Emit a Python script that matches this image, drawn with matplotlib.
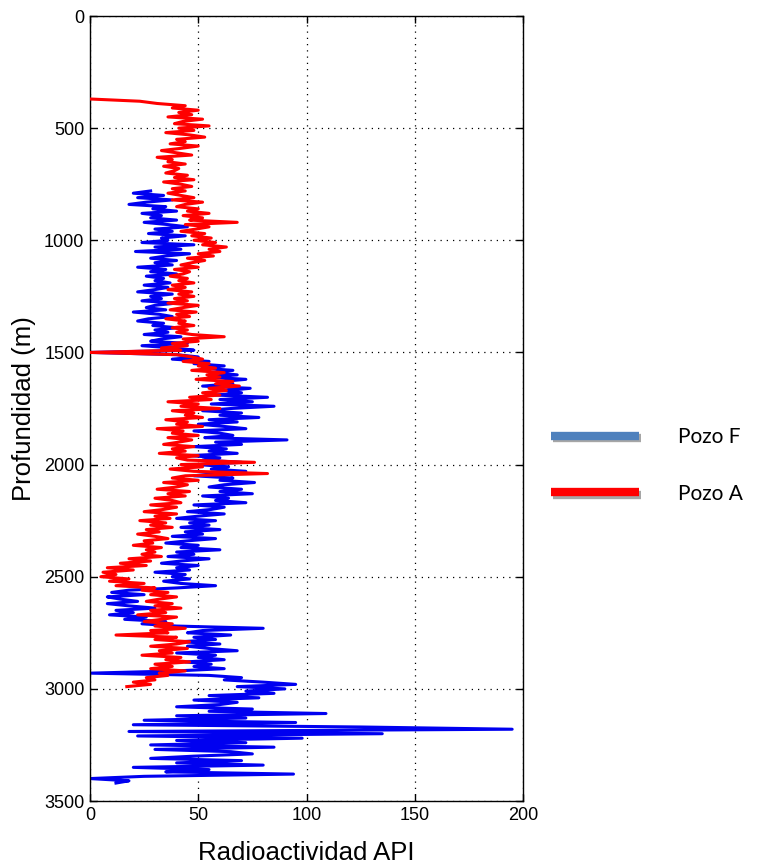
import numpy as np
import matplotlib
matplotlib.use("Agg")
import matplotlib.pyplot as plt
from matplotlib.lines import Line2D
import matplotlib.patheffects as pe

# ---------------- data ----------------
depth_step = 10  # m between samples

# Pozo A (red): first sample depth and API values
pozo_a_start = 370
pozo_a_api = [
    0, 23, 31,
    44, 38, 50, 41, 47, 36, 52, 43, 39, 55,
    41, 48, 35, 46, 53, 40, 44, 37, 50, 42,
    33, 40, 47, 31, 38, 36, 44, 34, 41, 39,
    35, 45, 39, 48, 34, 42, 47, 38, 44, 36,
    42, 48, 38, 52, 44, 40, 50, 45, 55, 43,
    52, 46, 68, 44, 55, 49, 42, 53, 47, 56,
    48, 58, 52, 63, 55, 60, 50, 57, 45, 53,
    47, 42, 50, 39, 46, 43, 37, 45, 41, 48,
    38, 44, 36, 47, 41, 48, 39, 45, 36, 50,
    43, 37, 49, 40, 46, 35, 44, 41, 48, 38,
    45, 40, 47, 62, 43, 50, 38, 45, 33, 42,
    0, 40, 47, 52, 43, 55, 50, 58, 47, 62,
    54, 60, 49, 66, 58, 69, 55, 63, 52, 60,
    46, 56, 36, 50, 42, 60, 38, 48, 44, 52,
    35, 45, 40, 52, 31, 43, 38, 50, 36, 47,
    41, 34, 48, 38, 44, 32, 50, 40, 45, 76,
    42, 52, 37, 48, 82, 44, 38, 50, 34, 45,
    40, 31, 46, 36, 44, 30, 38, 42, 28, 40,
    34, 25, 40, 30, 37, 23, 35, 28, 38, 26,
    32, 22, 30, 36, 25, 29, 20, 33, 26, 30,
    24, 33, 18, 28, 14, 26, 8, 20, 6, 12,
    5, 18, 9, 25, 12, 30, 24, 36, 28, 40,
    32, 26, 38, 30, 42, 28, 35, 22, 40, 33,
    25, 38, 30, 44, 28, 36, 12, 40, 30, 46,
    40, 28, 45, 32, 38, 24, 42, 35, 46, 30,
    38, 28, 44, 32, 36, 26, 30, 20, 28, 17,
]

# Pozo F (blue)
pozo_f_start = 780
pozo_f_api = [
    28, 20,
    34, 22, 38, 26, 18, 35, 29, 40, 24, 33,
    28, 40, 25, 36, 45, 30, 38, 27, 44, 33,
    36, 24, 48, 30, 42, 21, 46, 35, 28, 40,
    30, 38, 22, 35, 28, 40, 26, 34, 30, 37,
    25, 36, 30, 22, 38, 28, 33, 24, 40, 30,
    26, 35, 20, 32, 38, 27, 22, 34, 29, 40,
    30, 36, 25, 42, 33, 28, 45, 24, 38, 48,
    0, 40, 50, 38, 55, 48, 62, 52, 66, 57,
    68, 55, 72, 60, 66, 52, 74, 63, 70, 58,
    82, 60, 75, 56, 85, 65, 52, 70, 60, 78,
    55, 68, 50, 62, 72, 48, 60, 66, 53, 91,
    58, 70, 48, 63, 55, 68, 46, 60, 52, 70,
    50, 64, 56, 72, 58, 48, 66, 60, 76, 62,
    55, 70, 60, 75, 52, 64, 58, 72, 48, 62,
    56, 45, 62, 50, 40, 58, 46, 55, 42, 60,
    44, 52, 38, 58, 45, 35, 50, 42, 60, 40,
    48, 36, 55, 42, 33, 50, 40, 46, 30, 44,
    38, 46, 34, 42, 58, 40, 18, 10, 25, 8,
    14, 22, 8, 18, 30, 12, 20, 9, 26, 16,
    35, 24, 40, 80, 52, 45, 65, 48, 58, 42,
    60, 45, 55, 68, 40, 58, 50, 62, 44, 56,
    48, 62, 40, 0, 55, 70, 62, 80, 95, 68,
    90, 72, 85, 55, 78, 48, 68, 60, 40, 75,
    55, 109, 40, 72, 25, 95, 20, 125, 195, 18,
    135, 22, 98, 40, 72, 28, 85, 30, 65, 75,
    48, 28, 70, 40, 80, 20, 55, 35, 94, 25,
    0, 18, 12,
]

x_ticks = [0, 50, 100, 150, 200]
y_ticks = [0, 500, 1000, 1500, 2000, 2500, 3000, 3500]
series_names = ["Pozo F", "Pozo A"]

# ---------------- figure ----------------
W, H = 761, 867
fig = plt.figure(figsize=(W / 100, H / 100), dpi=100)
ax = fig.add_axes([90 / W, 1 - 801 / H, (523 - 90) / W, (801 - 16) / H])

a_depth = pozo_a_start + depth_step * np.arange(len(pozo_a_api))
f_depth = pozo_f_start + depth_step * np.arange(len(pozo_f_api))

ax.plot(pozo_f_api, f_depth, color="#0000f0", lw=2.2, zorder=2,
        solid_joinstyle="round")
ax.plot(pozo_a_api, a_depth, color="#ff0000", lw=2.2, zorder=3,
        solid_joinstyle="round")

ax.set_xlim(0, 200)
ax.set_ylim(3500, 0)
ax.set_xticks(x_ticks)
ax.set_yticks(y_ticks)
ax.grid(True, linestyle=(0, (1, 4)), color="black", lw=0.9)
ax.tick_params(direction="in", length=5, width=1, top=True, right=True,
               labelsize=13, colors="black", pad=4)
for lab in ax.get_xticklabels() + ax.get_yticklabels():
    lab.set_fontfamily("Liberation Sans")
for s in ax.spines.values():
    s.set_linewidth(1.0)

ax.set_xlabel("Radioactividad API", fontsize=18.5, family="Liberation Sans", labelpad=12.5)
ax.set_ylabel("Profundidad (m)", fontsize=18.5, family="Liberation Sans", labelpad=6)

shadow = [pe.SimpleLineShadow(offset=(1.5, -1.5), alpha=0.35), pe.Normal()]
handles = [
    Line2D([], [], color="#4f81bd", lw=6, solid_capstyle="butt", path_effects=shadow),
    Line2D([], [], color="#ff0000", lw=6, solid_capstyle="butt", path_effects=shadow),
]
leg = fig.legend(handles, series_names, loc="center left",
                 bbox_to_anchor=(551 / W, 1 - 465.5 / H), frameon=False,
                 prop={"family": "Lato", "size": 15}, handlelength=4.2,
                 handletextpad=1.9, labelspacing=1.75, borderpad=0, borderaxespad=0)

fig.savefig("out.png", dpi=100)
